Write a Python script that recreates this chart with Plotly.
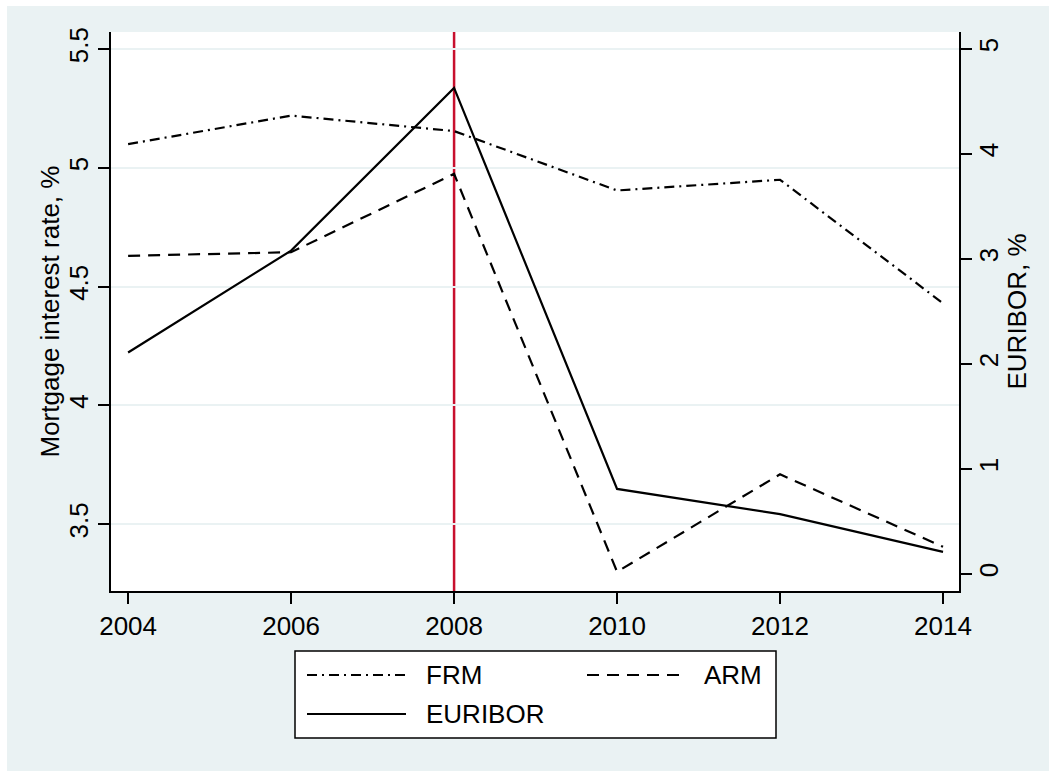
import plotly.graph_objects as go

# Survey years and annual averages (%)
years = [2004, 2006, 2008, 2010, 2012, 2014]
frm = [5.10, 5.22, 5.155, 4.905, 4.95, 4.43]      # fixed-rate mortgages
arm = [4.63, 4.645, 4.975, 3.30, 3.71, 3.405]     # adjustable-rate mortgages
euribor = [2.11, 3.08, 4.63, 0.81, 0.57, 0.21]    # 3-month EURIBOR
series_names = ["FRM", "ARM", "EURIBOR"]
crisis_year = 2008

left_title = "Mortgage interest rate, %"
right_title = "EURIBOR, %"
left_ticks = [3.5, 4, 4.5, 5, 5.5]
right_ticks = [0, 1, 2, 3, 4, 5]
x_ticks = [2004, 2006, 2008, 2010, 2012, 2014]

W, H = 1049, 771
ML, MR, MT, MB = 111, 90, 32, 180
PW, PH = W - ML - MR, H - MT - MB

BG = "#EAF2F3"
FONT = "Liberation Sans, Arial, sans-serif"
FS = 26
DASH_FRM = "10px,5px,2px,5px"
DASH_ARM = "12px,8px"


def px(x):
    return (x - ML) / PW


def py(y):
    return 1 - (y - MT) / PH


fig = go.Figure()
fig.add_trace(go.Scatter(x=years, y=frm, name=series_names[0], mode="lines",
                         line=dict(color="black", width=2.2, dash=DASH_FRM)))
fig.add_trace(go.Scatter(x=years, y=arm, name=series_names[1], mode="lines",
                         line=dict(color="black", width=2.2, dash=DASH_ARM)))
fig.add_trace(go.Scatter(x=years, y=euribor, name=series_names[2], mode="lines",
                         yaxis="y2", line=dict(color="black", width=2.2)))

shapes = [
    # thin white strips along the top and left page edges
    dict(type="rect", xref="paper", yref="paper", x0=px(-5), x1=px(W + 5),
         y0=py(6), y1=py(-5), fillcolor="white", line=dict(width=0), layer="below"),
    dict(type="rect", xref="paper", yref="paper", x0=px(-5), x1=px(7),
         y0=py(H + 5), y1=py(-5), fillcolor="white", line=dict(width=0), layer="below"),
    # vertical marker at the crisis year
    dict(type="line", xref="x", yref="paper", x0=crisis_year, x1=crisis_year,
         y0=0, y1=1, line=dict(color="#C8102E", width=2.5), layer="below"),
    # legend box
    dict(type="rect", xref="paper", yref="paper", x0=px(295), x1=px(776),
         y0=py(738), y1=py(651), fillcolor="white",
         line=dict(color="black", width=1.5)),
]

txt_font = dict(family=FONT, size=FS, color="black")

# legend samples and labels
legend_rows = [
    (series_names[0], DASH_FRM, 307, 406, 424, 675),
    (series_names[1], DASH_ARM, 587, 687, 702, 675),
    (series_names[2], "solid", 307, 406, 424, 714),
]
annotations = []
for name, dash, xs0, xs1, xt, yc in legend_rows:
    shapes.append(dict(type="line", xref="paper", yref="paper",
                       x0=px(xs0), x1=px(xs1), y0=py(yc), y1=py(yc),
                       line=dict(color="black", width=2.2, dash=dash)))
    annotations.append(dict(xref="paper", yref="paper", x=px(xt), y=py(yc),
                            xanchor="left", yanchor="middle", showarrow=False,
                            text=name, font=txt_font))

# axis titles, rotated to read bottom-to-top
annotations.append(dict(xref="paper", yref="paper", x=px(49), y=0.5,
                        xanchor="center", yanchor="middle", textangle=-90,
                        showarrow=False, text=left_title, font=txt_font))
annotations.append(dict(xref="paper", yref="paper", x=px(1016), y=0.5,
                        xanchor="center", yanchor="middle", textangle=-90,
                        showarrow=False, text=right_title, font=txt_font))

axis_common = dict(ticks="outside", ticklen=11, tickwidth=1.5, tickcolor="black",
                   showline=True, linecolor="black", linewidth=1.5, zeroline=False,
                   tickfont=txt_font)

fig.update_layout(
    width=W, height=H,
    margin=dict(l=ML, r=MR, t=MT, b=MB, pad=0),
    paper_bgcolor=BG, plot_bgcolor="white",
    showlegend=False,
    shapes=shapes, annotations=annotations,
    font=txt_font,
    xaxis=dict(range=[2003.79, 2014.196], tickvals=x_ticks, showgrid=False,
               **axis_common),
    yaxis=dict(range=[3.219, 5.572], tickvals=left_ticks, tickangle=-90,
               showgrid=True, gridcolor=BG, gridwidth=1.5, **axis_common),
    yaxis2=dict(range=[-0.162, 5.162], tickvals=right_ticks, tickangle=-90,
                overlaying="y", side="right", showgrid=False,
                ticklabelstandoff=-5, **axis_common),
)

fig.write_html("out.html")
